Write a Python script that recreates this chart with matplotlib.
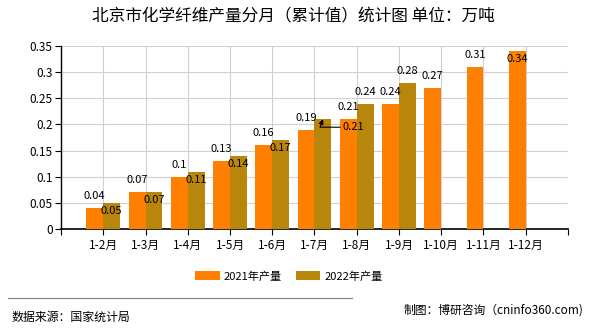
import numpy as np
import matplotlib
matplotlib.use('Agg')
import matplotlib.pyplot as plt
from matplotlib.lines import Line2D

plt.rcParams['font.family'] = ['Noto Sans CJK SC', 'DejaVu Sans']

# данные с картинки
months = ['1-2月', '1-3月', '1-4月', '1-5月', '1-6月', '1-7月',
          '1-8月', '1-9月', '1-10月', '1-11月', '1-12月']
vals_2021 = [0.04, 0.07, 0.1, 0.13, 0.16, 0.19, 0.21, 0.24, 0.27, 0.31, 0.34]
vals_2022 = [0.05, 0.07, 0.11, 0.14, 0.17, 0.21, 0.24, 0.28]
y_ticks = [0, 0.05, 0.1, 0.15, 0.2, 0.25, 0.3, 0.35]
y_labels = ['0', '0.05', '0.1', '0.15', '0.2', '0.25', '0.3', '0.35']

c2021 = '#FF8000'
c2022 = '#B8860B'

fig = plt.figure(figsize=(5.9, 3.3), dpi=100)
ax = fig.add_axes([0.1034, 0.306, 0.8593, 0.5546])

x = np.arange(len(months))
x2 = np.arange(len(vals_2022))
w = 0.4
b1 = ax.bar(x - w / 2, vals_2021, w, color=c2021, zorder=3, label='2021年产量')
b2 = ax.bar(x2 + w / 2, vals_2022, w, color=c2022, zorder=3, label='2022年产量')

ax.set_xlim(-1, len(months))
ax.set_ylim(0, 0.35)
ax.set_yticks(y_ticks)
ax.set_yticklabels(y_labels, fontsize=8.5)
ax.set_xticks(np.arange(-1, len(months) + 1))
ax.set_xticklabels([''] + months + [''], fontsize=8.5)
ax.tick_params(axis='x', length=4, width=0.8, pad=3)
ax.tick_params(axis='y', length=4, width=0.8, pad=2)
ax.grid(True, color='#D0D0D8', linewidth=0.8, zorder=0)
ax.spines['top'].set_visible(False)
ax.spines['right'].set_visible(False)
ax.spines['left'].set_linewidth(1)
ax.spines['bottom'].set_linewidth(1.2)

# подписи значений
for xi, v in zip(x, vals_2021):
    dy = 12 if v < 0.33 else -8
    ax.annotate(f'{v:g}', (xi - w / 2, v), xytext=(0, dy), textcoords='offset pixels',
                ha='center', va='center', fontsize=8, zorder=5)
for xi, v in zip(x2, vals_2022):
    if xi == 5:
        # сдвинутая подпись со стрелкой
        ax.annotate(f'{v:g}', (xi + w / 2, v), xytext=(20, -8), textcoords='offset pixels',
                    ha='left', va='center', fontsize=8, zorder=5,
                    arrowprops=dict(arrowstyle='-|>', color='black', lw=0.8,
                                    connectionstyle='angle,angleA=0,angleB=70,rad=0',
                                    shrinkA=0, shrinkB=0, mutation_scale=7))
        continue
    dy = -8 if xi < 5 else 12
    ax.annotate(f'{v:g}', (xi + w / 2, v), xytext=(0, dy), textcoords='offset pixels',
                ha='center', va='center', fontsize=8, zorder=5)

fig.text(0.497, 0.948, '北京市化学纤维产量分月（累计值）统计图 单位：万吨',
         ha='center', va='center', fontsize=12)

fig.legend(handles=[b1, b2], loc='center', bbox_to_anchor=(0.49, 0.163), ncol=2,
           frameon=False, fontsize=8, handlelength=2.2, handleheight=0.9,
           columnspacing=1.25, handletextpad=0.4)

fig.add_artist(Line2D([0.014, 0.597], [0.097, 0.097], color='#808080', lw=0.8,
                      transform=fig.transFigure))
fig.text(0.019, 0.039, '数据来源：国家统计局', ha='left', va='center', fontsize=8.6)
fig.text(0.988, 0.06, '制图：博研咨询（cninfo360.com)', ha='right', va='center', fontsize=8.5)

fig.savefig('out.png', dpi=100)
